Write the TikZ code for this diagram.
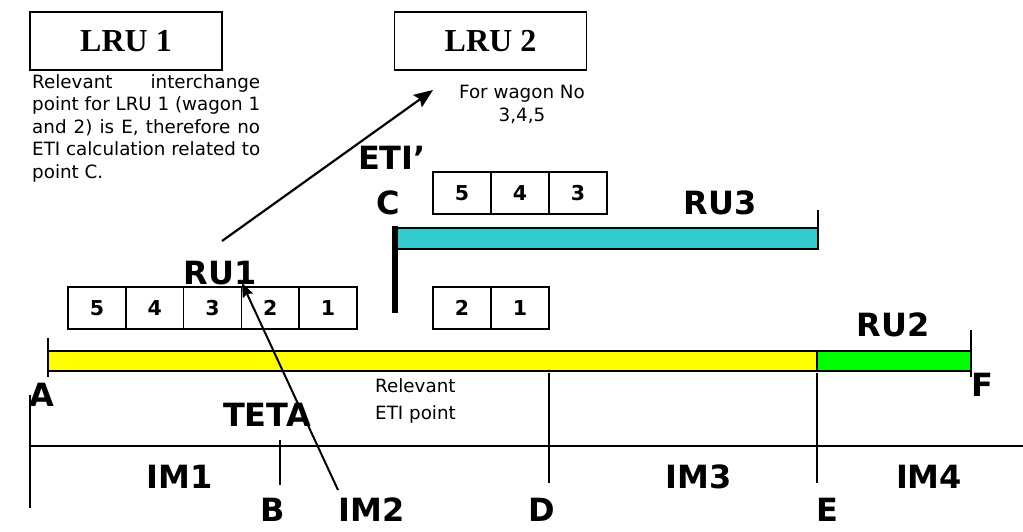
\documentclass[tikz,border=0pt]{standalone}
\usepackage{fontspec}
\setmainfont{DejaVu Sans}
\newfontfamily\lruserif{Liberation Serif}
\usetikzlibrary{arrows.meta}
\definecolor{barYellow}{RGB}{255,255,0}
\definecolor{barGreen}{RGB}{0,255,0}
\definecolor{barCyan}{RGB}{51,204,204}
\tikzset{
  lbl/.style={inner sep=0pt, font=\bfseries\fontsize{32}{38}\selectfont},
  wagon/.style={draw, line width=1.6pt, minimum width=57.8pt, minimum height=42pt, inner sep=0pt,
    font=\bfseries\fontsize{20.5}{24}\selectfont},
  lrubox/.style={draw, line width=1.8pt, minimum width=192pt, minimum height=58pt, inner sep=0pt,
    font=\lruserif\bfseries\fontsize{32}{36}\selectfont},
  note/.style={inner sep=0pt, font=\fontsize{18.3}{22.5}\selectfont},
  bar/.style={draw, line width=1.7pt},
  tick/.style={line width=1.9pt},
  arr/.style={line width=2.2pt, -{Stealth[length=19pt,width=15pt,inset=3pt]}},
}
\begin{document}
\begin{tikzpicture}[x=1pt,y=-1pt]
\useasboundingbox (0,0) rectangle (1023,532);
% LRU boxes
\node[lrubox] (lru1) at (126,41) {LRU 1};
\node[lrubox] (lru2) at (490.5,41) {LRU 2};
% notes
\node[note, anchor=north west, text width=228pt, align=justify] (note1) at (32,74)
  {Relevant interchange point for LRU 1 (wagon 1 and 2) is E, therefore no ETI calculation related to point C.};
\node[note, anchor=north, align=center] (note2) at (522,85) {For wagon No\\3,4,5};
\node[note, anchor=north west, align=left, font=\fontsize{18.3}{27}\selectfont] (note3) at (375,378) {Relevant\\ETI point};
% bars
\draw[bar, fill=barYellow] (48,351) rectangle (817,371);
\draw[bar, fill=barGreen] (817,351) rectangle (971,371);
\draw[bar, fill=barCyan] (395,228) rectangle (818,249);
% ticks on bars
\draw[tick] (48,338) -- (48,377);
\draw[tick] (971,330) -- (971,377);
\draw[tick] (818,210) -- (818,249);
\draw[line width=6.5pt] (395,226) -- (395,313);
% timeline
\draw[line width=2.4pt] (30,446) -- (1023,446);
\draw[tick] (30,395) -- (30,508);
\draw[tick] (280,440) -- (280,485);
\draw[tick] (549,373) -- (549,483);
\draw[tick] (817,373) -- (817,483);
% wagons left row
\node[wagon] (w5) at (96.9,308) {5};
\node[wagon] (w4) at (154.7,308) {4};
\node[wagon] (w3) at (212.5,308) {3};
\node[wagon] (w2) at (270.3,308) {2};
\node[wagon] (w1) at (328.1,308) {1};
% wagons upper row
\node[wagon] (u5) at (462,193) {5};
\node[wagon] (u4) at (520,193) {4};
\node[wagon] (u3) at (578,193) {3};
% wagons lower row
\node[wagon] (l2) at (462,308) {2};
\node[wagon] (l1) at (520,308) {1};
% labels
\node[lbl] (eti) at (392,158) {ETI’};
\node[lbl] (lc) at (388,203) {C};
\node[lbl] (ru3) at (720,203) {RU3};
\node[lbl] (ru1) at (220,273) {RU1};
\node[lbl] (ru2) at (893,325) {RU2};
\node[lbl] (la) at (42,395) {A};
\node[lbl] (lf) at (982,385) {F};
\node[lbl] (teta) at (267,415) {TETA};
\node[lbl] (im1) at (180,477) {IM1};
\node[lbl] (im3) at (699,477) {IM3};
\node[lbl] (im4) at (929,477) {IM4};
\node[lbl] (lb) at (273,510) {B};
\node[lbl] (im2) at (372,510) {IM2};
\node[lbl] (ld) at (542,510) {D};
\node[lbl] (le) at (827,510) {E};
% arrows
\coordinate (a1s) at (222,241);
\coordinate (a1e) at (433,90);
\coordinate (a2s) at (338,490);
\coordinate (a2e) at (242,283);
\draw[arr] (a1s) -- (a1e);
\draw[arr, line width=2pt, -{Stealth[length=14pt,width=11pt,inset=2pt]}] (a2s) -- (a2e);
\end{tikzpicture}
\end{document}
